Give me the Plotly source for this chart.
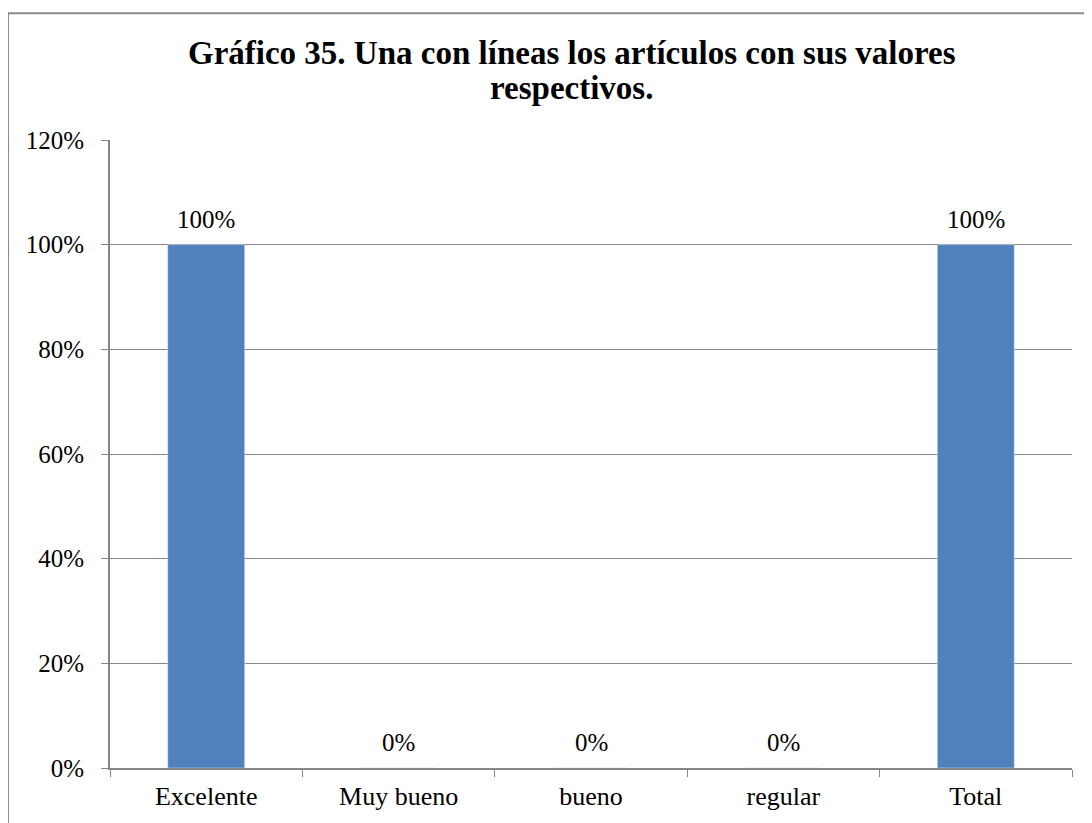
import plotly.graph_objects as go

categorias = ['Excelente', 'Muy bueno', 'bueno', 'regular', 'Total']
valores = [1.0, 0.0, 0.0, 0.0, 1.0]
etiquetas = ['100%', '0%', '0%', '0%', '100%']

titulo = ['Gráfico 35. Una con líneas los artículos con sus valores', 'respectivos.']
fuente = 'Liberation Serif'
gris = '#868686'

fig = go.Figure()
fig.add_trace(go.Bar(x=categorias, y=valores, marker=dict(color='#4F81BD'),
                     width=0.4, hoverinfo='x+y'))

# etiquetas de datos encima de cada barra
for c, v, t in zip(categorias, valores, etiquetas):
    fig.add_annotation(x=c, y=v, text=t, showarrow=False, yanchor='bottom', yshift=10,
                       font=dict(family=fuente, size=25, color='black'))

# título en dos líneas (anotaciones para controlar el interlineado)
for linea, yy in zip(titulo, [1.1385, 1.0828]):
    fig.add_annotation(x=0.4802, y=yy, xref='paper', yref='paper', text=linea,
                       showarrow=False, xanchor='center', yanchor='middle',
                       font=dict(family=fuente, size=33, color='black', weight='bold'))

fig.update_layout(
    width=1092, height=823,
    margin=dict(l=102, r=28, t=132, b=63),
    paper_bgcolor='white', plot_bgcolor='white',
    font=dict(family=fuente, size=25, color='black'),
    showlegend=False,
)
fig.update_yaxes(range=[0, 1.2], dtick=0.2, tickformat='.0%', showgrid=True,
                 gridcolor=gris, gridwidth=1, showline=True, linecolor=gris, linewidth=2,
                 ticks='outside', ticklen=7, tickcolor=gris, zeroline=False,
                 ticklabelstandoff=12, tickfont=dict(size=25))
fig.update_xaxes(showline=True, linecolor=gris, linewidth=2, ticks='outside',
                 tickson='boundaries', ticklen=7, tickcolor=gris, showgrid=False,
                 ticklabelstandoff=4, tickfont=dict(size=26))

# borde del gráfico
fig.add_shape(type='rect', xref='paper', yref='paper', x0=-0.106, x1=1.2, y0=-0.3, y1=1.202,
              line=dict(color='#8c8c8c', width=2), layer='below')

fig.write_html('out.html')
